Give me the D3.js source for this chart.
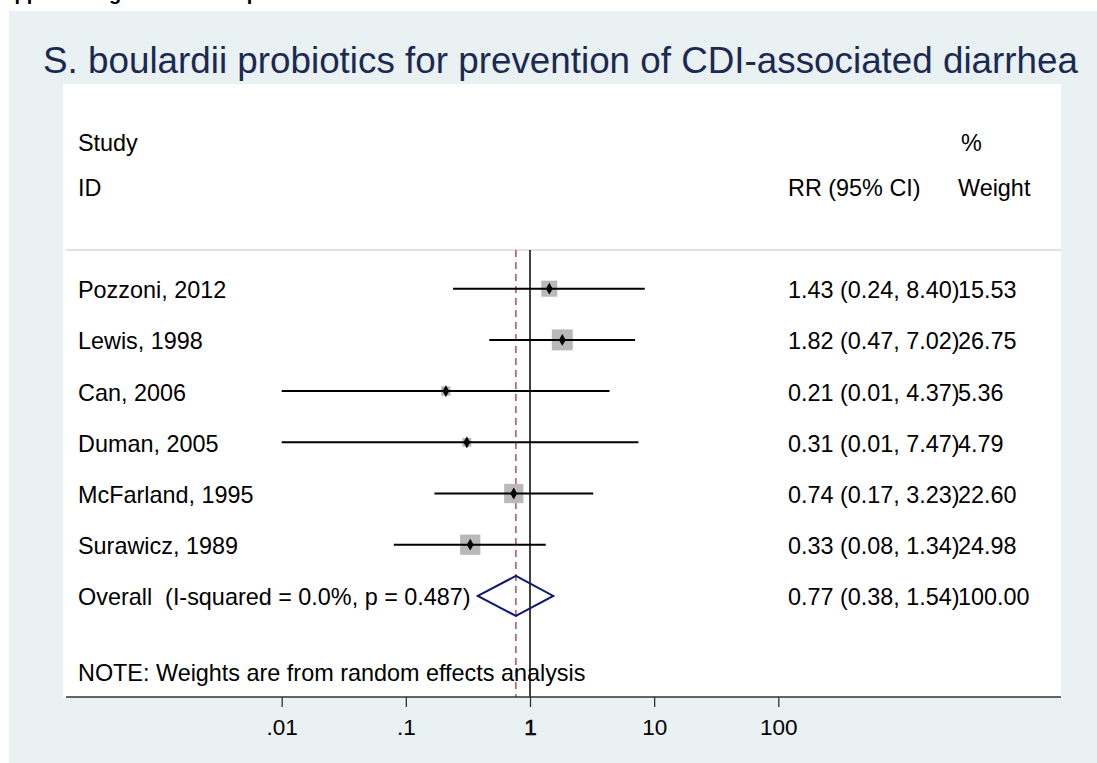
<!DOCTYPE html>
<html>
<head>
<meta charset="utf-8">
<script src="https://cdn.jsdelivr.net/npm/d3@7"></script>
<style>
  html, body { margin: 0; padding: 0; background: #ffffff; }
  svg { display: block; font-family: "Liberation Sans", Arial, sans-serif; }
  text { white-space: pre; }
</style>
</head>
<body>
<svg id="chart" width="1097" height="763"></svg>
<script>
// Study-level relative risks with 95% confidence intervals and random-effects weights
const studies = ["Pozzoni, 2012", "Lewis, 1998", "Can, 2006", "Duman, 2005", "McFarland, 1995", "Surawicz, 1989"];
const rr      = [1.43, 1.82, 0.21, 0.31, 0.74, 0.33];
const ciLow   = [0.24, 0.47, 0.01, 0.01, 0.17, 0.08];
const ciHigh  = [8.40, 7.02, 4.37, 7.47, 3.23, 1.34];
const weights = [15.53, 26.75, 5.36, 4.79, 22.60, 24.98];

// Pooled estimate
const overallLabel = "Overall  (I-squared = 0.0%, p = 0.487)";
const overall = { rr: 0.77, lo: 0.38, hi: 1.54, weight: 100.00 };

// Axis ticks
const tickValues = [0.01, 0.1, 1, 10, 100];
const tickLabels = [".01", ".1", "1", "10", "100"];

const svg = d3.select("#chart");
const fmt2 = d3.format(".2f");

// Outer graph region
svg.append("rect").attr("x", 9).attr("y", 11).attr("width", 1088).attr("height", 752)
  .attr("fill", "#e9f1f3");

// Running header above the graph (only its lower edge falls inside the page)
svg.append("text").attr("x", 0).attr("y", 0)
  .attr("font-size", 20).attr("font-weight", "bold").attr("fill", "#000")
  .text("Appendix figure 4. Forest plot");

// Title
svg.append("text").attr("x", 43).attr("y", 73)
  .attr("font-size", 36).attr("fill", "#1c2a52")
  .attr("textLength", 1035).attr("lengthAdjust", "spacingAndGlyphs")
  .text("S. boulardii probiotics for prevention of CDI-associated diarrhea");

// Plot region
const plot = { left: 63, right: 1061, top: 84, bottom: 697 };
svg.append("rect").attr("x", plot.left).attr("y", plot.top)
  .attr("width", plot.right - plot.left).attr("height", plot.bottom - plot.top)
  .attr("fill", "#ffffff");

// Scales
const x = d3.scaleLog().domain([0.01, 100]).range([281.7, 778.3]);
const rowIdx = d3.range(studies.length + 1);
const y = d3.scalePoint().domain(rowIdx).range([288.7, 595.9]);
const boxSide = d3.scaleSqrt().domain([0, 100]).range([0, 40.6]);

const headerLineY = 250;
const fs = 23.4;

// Header separator
svg.append("line").attr("x1", plot.left + 3).attr("x2", plot.right)
  .attr("y1", headerLineY).attr("y2", headerLineY)
  .attr("stroke", "#c4c4c4").attr("stroke-width", 1.2);

// Column headers
const colStudy = 78, colRR = 788, colW = 958;
const hdr = svg.append("g").attr("font-size", fs).attr("fill", "#000");
hdr.append("text").attr("x", colStudy).attr("y", 151).text("Study");
hdr.append("text").attr("x", colStudy).attr("y", 196).text("ID");
hdr.append("text").attr("x", 961).attr("y", 151).text("%");
hdr.append("text").attr("x", colRR).attr("y", 196).text("RR (95% CI)");
hdr.append("text").attr("x", colW).attr("y", 196).text("Weight");

// Null line at RR = 1
svg.append("line").attr("x1", x(1)).attr("x2", x(1))
  .attr("y1", headerLineY).attr("y2", plot.bottom)
  .attr("stroke", "#000").attr("stroke-width", 1.5);

// Overall estimate reference line
svg.append("line").attr("x1", x(overall.rr)).attr("x2", x(overall.rr))
  .attr("y1", headerLineY).attr("y2", plot.bottom)
  .attr("stroke", "#a8323e").attr("stroke-width", 1.3)
  .attr("stroke-dasharray", "7,5");

// Study rows
const rows = studies.map((s, i) => ({ s, rr: rr[i], lo: ciLow[i], hi: ciHigh[i], w: weights[i], i }));

const g = svg.append("g");
g.selectAll("rect.box").data(rows).join("rect").attr("class", "box")
  .attr("x", d => x(d.rr) - boxSide(d.w) / 2)
  .attr("y", d => y(d.i) - boxSide(d.w) / 2)
  .attr("width", d => boxSide(d.w)).attr("height", d => boxSide(d.w))
  .attr("fill", "#b9b9b9");

g.selectAll("line.ci").data(rows).join("line").attr("class", "ci")
  .attr("x1", d => x(d.lo)).attr("x2", d => x(d.hi))
  .attr("y1", d => y(d.i)).attr("y2", d => y(d.i))
  .attr("stroke", "#000").attr("stroke-width", 2);

g.selectAll("path.pt").data(rows).join("path").attr("class", "pt")
  .attr("transform", d => `translate(${x(d.rr)},${y(d.i)})`)
  .attr("d", d3.symbol(d3.symbolDiamond, 40)())
  .attr("fill", "#000");

const txt = svg.append("g").attr("font-size", fs).attr("fill", "#000");
txt.selectAll("text.lab").data(rows).join("text").attr("class", "lab")
  .attr("x", colStudy).attr("y", d => y(d.i) + 9.5).text(d => d.s);
txt.selectAll("text.val").data(rows).join("text").attr("class", "val")
  .attr("x", colRR).attr("y", d => y(d.i) + 9.5)
  .text(d => `${fmt2(d.rr)} (${fmt2(d.lo)}, ${fmt2(d.hi)})`);
txt.selectAll("text.wt").data(rows).join("text").attr("class", "wt")
  .attr("x", colW).attr("y", d => y(d.i) + 9.5).text(d => fmt2(d.w));

// Overall diamond
const oy = y(studies.length);
const half = 20;
svg.append("path")
  .attr("d", `M${x(overall.lo)},${oy} L${x(overall.rr)},${oy - half} L${x(overall.hi)},${oy} L${x(overall.rr)},${oy + half} Z`)
  .attr("fill", "none").attr("stroke", "#0d1a70").attr("stroke-width", 2);

txt.append("text").attr("x", colStudy).attr("y", oy + 9.5).text(overallLabel);
txt.append("text").attr("x", colRR).attr("y", oy + 9.5)
  .text(`${fmt2(overall.rr)} (${fmt2(overall.lo)}, ${fmt2(overall.hi)})`);
txt.append("text").attr("x", colW).attr("y", oy + 9.5).text(fmt2(overall.weight));

// Footnote
txt.append("text").attr("x", colStudy).attr("y", 681)
  .text("NOTE: Weights are from random effects analysis");

// X axis
const axis = d3.axisBottom(x).tickValues(tickValues)
  .tickFormat((d, i) => tickLabels[i]).tickSize(10).tickSizeOuter(0).tickPadding(12);
const ax = svg.append("g").attr("transform", `translate(0,${plot.bottom})`).call(axis);
ax.select(".domain").remove();
ax.selectAll(".tick line").attr("stroke", "#333").attr("stroke-width", 1.3);
ax.selectAll(".tick text").attr("font-size", 22.5).attr("fill", "#000")
  .attr("font-family", "\"Liberation Sans\", Arial, sans-serif");
ax.selectAll(".tick text").filter(d => d === 1).attr("stroke", "#000").attr("stroke-width", 0.5);
svg.append("line").attr("x1", plot.left + 3).attr("x2", plot.right)
  .attr("y1", plot.bottom).attr("y2", plot.bottom)
  .attr("stroke", "#333").attr("stroke-width", 1.5);
</script>
</body>
</html>
